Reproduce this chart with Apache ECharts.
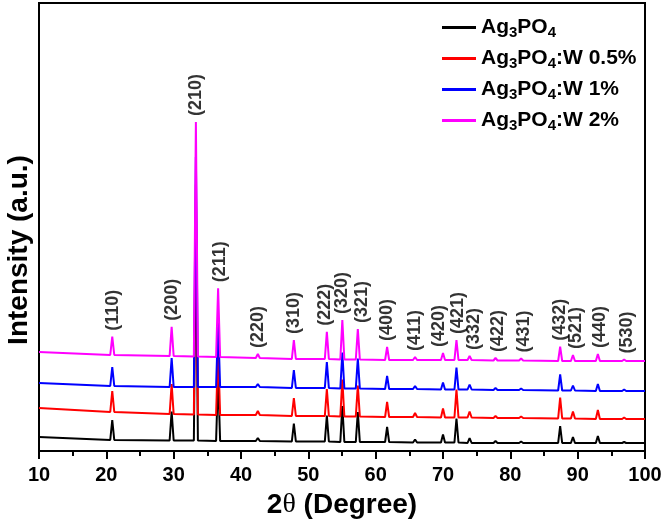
<!DOCTYPE html>
<html><head><meta charset="utf-8">
<script src="https://cdn.jsdelivr.net/npm/echarts/dist/echarts.min.js"></script>
<style>html,body{margin:0;padding:0;background:#fff}#c{width:667px;height:527px}</style>
</head><body><div id="c"></div>
<script>
// ---- data (intensities in arbitrary units, offset per pattern) ----
const hkl = ['(110)','(200)','(210)','(211)','(220)','(310)','(222)','(320)','(321)','(400)',
             '(411)','(420)','(421)','(332)','(422)','(431)','(432)','(521)','(440)','(530)'];
const peakPos = [20.88,29.70,33.30,36.60,42.50,47.85,52.75,55.05,57.35,61.70,
                 65.85,70.00,72.00,73.95,77.80,81.60,87.40,89.30,93.00,96.90];
const xRange = [10, 100];

// Ag3PO4 (black)
const blackEnds = [14, 8];
const blackBase = [11,10.5,10.5,10,10,9.5,9.5,9,9,9,8.5,8.5,8.5,8,8,8,8,8,8,8];
const blackTop  = [31,39.5,240.5,75,13,27.5,35.5,45,39,24,11.5,16.5,32.5,13,10,9.5,25,14,15,9];
// Ag3PO4:W 0.5% (red)
const redEnds = [43, 32];
const redBase = [39,37,36.5,36,36,35,35,34.5,34.5,34,34,33.5,33.5,33.5,33,33,32.5,32.5,32,32];
const redTop  = [60,67,266.5,102,40,53,62,71.5,65.5,49,38,42.5,61.5,39.5,35,34.5,53.5,39.5,41,33.5];
// Ag3PO4:W 1% (blue)
const blueEnds = [68, 60];
const blueBase = [65,64,64,64,64,63,63,62.5,62.5,62,62,61.5,61.5,61.5,61,61,60.5,60.5,60,60];
const blueTop  = [84,93,294,129,67,81,89,98.5,92.5,75,65,68.5,83.5,66.5,63,62.5,76.5,65.5,67,61.5];
// Ag3PO4:W 2% (magenta)
const magEnds = [99, 90];
const magBase = [96,95,94.5,94,93,92,92,91.5,91.5,91,91,91,91,91,90.5,90.5,90,90,90,90];
const magTop  = [114.3,124.3,329,162.7,97,111,119.3,131,122,104,94,98,111,95,93,92.5,104.3,96,97,91.5];

const seriesNames = ['Ag3PO4','Ag3PO4:W 0.5%','Ag3PO4:W 1%','Ag3PO4:W 2%'];
const yRange = [0, 448];

// ---- chart ----
const FONT = '"Liberation Sans", Arial, Helvetica, sans-serif';
const HW = 0.3; // half width of a peak foot (deg)
function buildLine(base, top, ends) {
  const pts = [[xRange[0], ends[0]]];
  peakPos.forEach((p, i) => { pts.push([p - HW, base[i]], [p, top[i]], [p + HW, base[i]]); });
  pts.push([xRange[1], ends[1]]);
  return pts;
}
const colors = ['#000000', '#ff0000', '#0000ff', '#ff00ff'];
const lines = [
  buildLine(blackBase, blackTop, blackEnds),
  buildLine(redBase, redTop, redEnds),
  buildLine(blueBase, blueTop, blueEnds),
  buildLine(magBase, magTop, magEnds)
];
const pxPerDeg = 606 / 90;
const labelNudgePx = {'(110)':1,'(211)':2,'(222)':-2,'(321)':4,'(420)':-4,'(421)':2,'(332)':4,'(422)':3,'(431)':3,'(521)':3,'(440)':2,'(530)':3};
const labelGap = 6;

const chart = echarts.init(document.getElementById('c'), null, {renderer: 'canvas'});
chart.setOption({
  animation: false,
  backgroundColor: '#fff',
  grid: {left: 39, right: 22, top: 3, bottom: 76, show: true, borderColor: '#000', borderWidth: 2, backgroundColor: 'transparent'},
  legend: {
    orient: 'vertical', left: 437, top: 10,
    itemWidth: 34, itemHeight: 3, itemGap: 6, icon: 'rect',
    data: seriesNames,
    formatter: n => n.replace('Ag3PO4', 'Ag{s|3}PO{s|4}'),
    textStyle: {fontSize: 21, fontWeight: 'bold', color: '#000', fontFamily: FONT, lineHeight: 25,
      rich: {s: {fontSize: 15, lineHeight: 15, fontWeight: 'bold', verticalAlign: 'bottom', fontFamily: FONT, color: '#000'}}}
  },
  xAxis: {
    type: 'value', min: xRange[0], max: xRange[1], interval: 10,
    name: '2{t|θ} (Degree)', nameLocation: 'middle', nameGap: 40,
    nameTextStyle: {fontSize: 28, fontWeight: 'bold', color: '#000', fontFamily: FONT,
      rich: {t: {fontSize: 28, fontFamily: '"Liberation Serif", serif', fontWeight: 'normal', color: '#000'}}},
    axisLine: {lineStyle: {color: '#000', width: 2}},
    axisTick: {length: 8, lineStyle: {color: '#000', width: 2}},
    minorTick: {show: true, splitNumber: 2, length: 5, lineStyle: {color: '#000', width: 2}},
    axisLabel: {fontSize: 20, fontWeight: 'bold', color: '#000', margin: 14, fontFamily: FONT},
    splitLine: {show: false}
  },
  yAxis: {
    type: 'value', min: yRange[0], max: yRange[1],
    axisLine: {show: true, lineStyle: {color: '#000', width: 2}},
    axisTick: {show: false}, axisLabel: {show: false}, splitLine: {show: false}
  },
  graphic: [{
    type: 'text', x: 19, y: 250, rotation: Math.PI / 2,
    style: {text: 'Intensity (a.u.)', fontSize: 28, fontWeight: 'bold', fontFamily: FONT, fill: '#000', align: 'center', verticalAlign: 'middle'}
  }],
  series: lines.map((d, i) => ({
    type: 'line', name: seriesNames[i], data: d, showSymbol: false, symbol: 'none',
    lineStyle: {color: colors[i], width: 2}, itemStyle: {color: colors[i]}, z: 2 + i
  })).concat([{
    type: 'scatter', name: 'hkl', silent: true, symbolSize: 1, z: 10,
    itemStyle: {color: 'rgba(0,0,0,0)'},
    data: hkl.map((h, i) => ({name: h, value: [peakPos[i] + (labelNudgePx[h] || 0) / pxPerDeg, magTop[i] + labelGap]})),
    label: {show: true, position: 'inside', rotate: 90, align: 'left', verticalAlign: 'middle',
      formatter: '{b}', fontSize: 18, fontWeight: 'bold', color: '#000', fontFamily: FONT}
  }])
});
</script></body></html>
